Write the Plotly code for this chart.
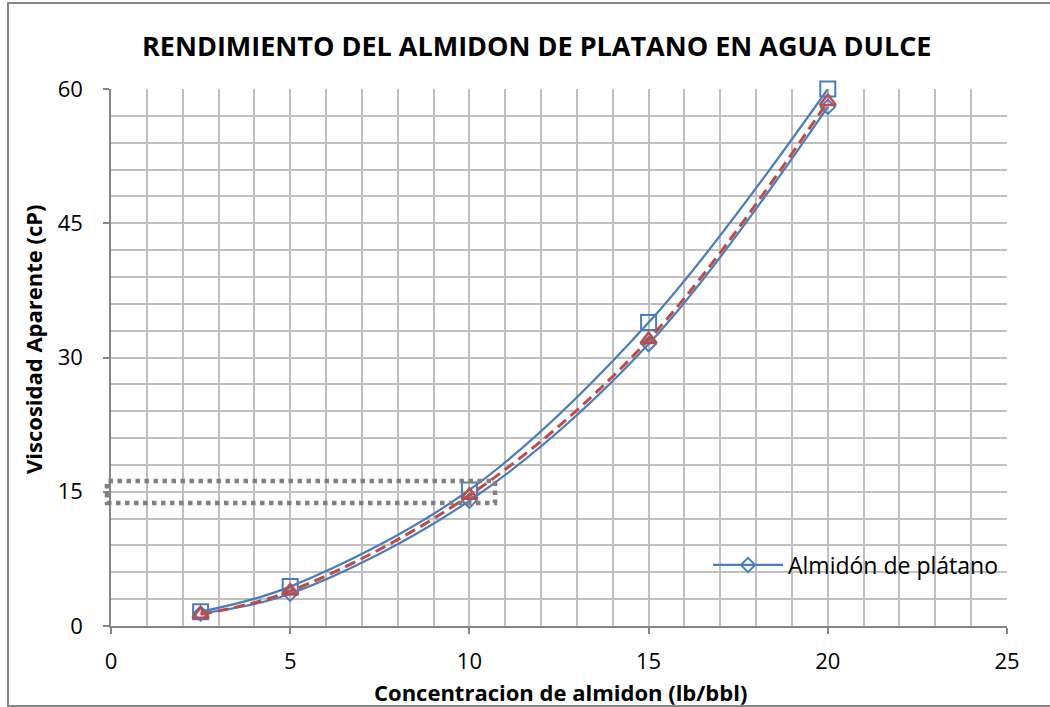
import plotly.graph_objects as go

# Data
concentracion = [2.5, 5, 10, 15, 20]
visc_diamante = [1.4, 3.6, 14.0, 31.5, 58.0]   # Almidón de plátano (legend series)
visc_cuadro = [1.6, 4.4, 15.2, 33.9, 60.0]
visc_triangulo = [1.3, 3.9, 14.6, 32.0, 58.6]

x_ticks = [0, 5, 10, 15, 20, 25]
y_ticks = [0, 15, 30, 45, 60]

FONT = "Open Sans"
BLUE = "#4A7EBB"
RED = "#BE4B48"
GRID = "#BFBFBF"
AXIS = "#868686"

W, H = 1050, 707
L, R, T, B = 111, 43, 89, 81
pw, ph = W - L - R, H - T - B


def px_x(px):
    return (px - L) / pw


def px_y(py):
    return (H - B - py) / ph


fig = go.Figure()

fig.add_trace(go.Scatter(
    x=concentracion, y=visc_diamante, mode="lines+markers",
    name="Almidón de plátano", cliponaxis=False,
    line=dict(color=BLUE, width=2.25, shape="spline", smoothing=1),
    marker=dict(symbol="diamond-open", size=11, color=BLUE, line=dict(width=2, color=BLUE)),
    showlegend=True,
))
fig.add_trace(go.Scatter(
    x=concentracion, y=visc_cuadro, mode="lines+markers",
    name="serie2", cliponaxis=False,
    line=dict(color=BLUE, width=2.25, shape="spline", smoothing=1),
    marker=dict(symbol="square-open", size=15, color=BLUE, line=dict(width=2, color=BLUE)),
    showlegend=False,
))
fig.add_trace(go.Scatter(
    x=concentracion, y=visc_triangulo, mode="lines+markers",
    name="serie3", cliponaxis=False,
    line=dict(color=RED, width=3, shape="spline", smoothing=1, dash="11px,6px"),
    marker=dict(symbol="triangle-up-open", size=14, color=RED, line=dict(width=2.5, color=RED)),
    showlegend=False,
))

axis_common = dict(
    showgrid=True, gridcolor=GRID, gridwidth=1.5,
    showline=True, linecolor=AXIS, linewidth=1.5,
    ticks="outside", ticklen=6, tickcolor=AXIS, tickwidth=1.5,
    tickfont=dict(family=FONT, size=22, color="#000000"),
    zeroline=False,
)

fig.update_xaxes(
    range=[0, 25], tickvals=x_ticks, ticktext=[str(v) for v in x_ticks],
    minor=dict(dtick=1, showgrid=True, gridcolor=GRID, gridwidth=1.5, ticks=""),
    ticklabelstandoff=9,
    **axis_common,
)
fig.update_yaxes(
    range=[0, 60], tickvals=y_ticks, ticktext=[str(v) for v in y_ticks],
    minor=dict(dtick=3, showgrid=True, gridcolor=GRID, gridwidth=1.5, ticks=""),
    ticklabelstandoff=16,
    **axis_common,
)

shapes = [
    # dotted highlight rectangle around 15 cP
    dict(type="rect", xref="x domain", yref="y domain",
         x0=px_x(107), x1=px_x(495), y0=px_y(503), y1=px_y(481),
         line=dict(color="#808080", width=4.5, dash="4.5px,4.5px"), fillcolor="rgba(0,0,0,0)",
         layer="above"),
    # outer chart border
    dict(type="rect", xref="paper", yref="paper",
         x0=px_x(8), x1=px_x(1053), y0=px_y(706), y1=px_y(3),
         line=dict(color=AXIS, width=2), fillcolor="rgba(0,0,0,0)", layer="below"),
]

annotations = [
    dict(text="<b>RENDIMIENTO DEL ALMIDON DE PLATANO EN AGUA DULCE</b>",
         xref="paper", yref="paper", x=px_x(537), y=px_y(45),
         xanchor="center", yanchor="middle", showarrow=False,
         font=dict(family=FONT, size=27, color="#000000")),
    dict(text="<b>Concentracion de almidon (lb/bbl)</b>",
         xref="paper", yref="paper", x=px_x(560), y=px_y(692),
         xanchor="center", yanchor="middle", showarrow=False,
         font=dict(family=FONT, size=22, color="#000000")),
    dict(text="<b>Viscosidad Aparente (cP)</b>",
         xref="paper", yref="paper", x=px_x(33), y=px_y(339),
         xanchor="center", yanchor="middle", showarrow=False, textangle=-90,
         font=dict(family=FONT, size=22, color="#000000")),
]

fig.update_layout(
    width=W, height=H,
    margin=dict(l=L, r=R, t=T, b=B),
    paper_bgcolor="white", plot_bgcolor="white",
    showlegend=True,
    legend=dict(
        x=px_x(708), y=px_y(565), xanchor="left", yanchor="middle",
        bgcolor="rgba(0,0,0,0)", borderwidth=0, itemwidth=70,
        font=dict(family=FONT, size=23, color="#000000"),
    ),
    shapes=shapes,
    annotations=annotations,
)

fig.write_html("out.html")
